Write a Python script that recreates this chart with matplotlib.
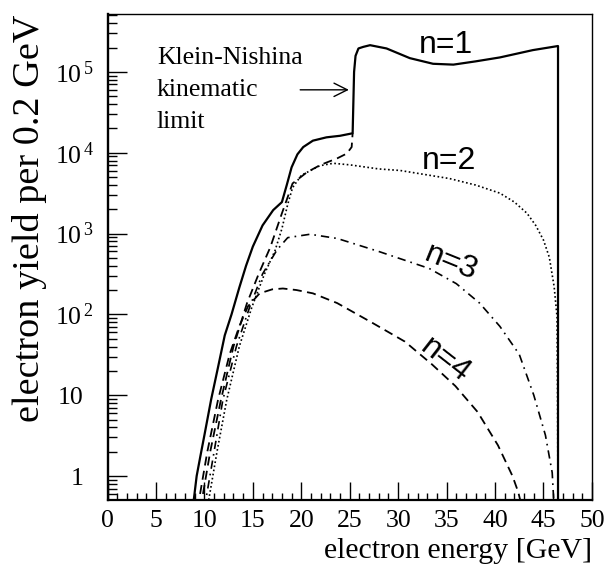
import matplotlib
matplotlib.use('Agg')
import matplotlib.pyplot as plt
from matplotlib.ticker import LogLocator, MultipleLocator, FixedLocator, NullFormatter
from matplotlib.transforms import ScaledTranslation

plt.rcParams['font.family'] = ['Liberation Serif', 'DejaVu Serif']
plt.rcParams['mathtext.fontset'] = 'custom'
plt.rcParams['mathtext.rm'] = 'Liberation Serif'
plt.rcParams['mathtext.it'] = 'Liberation Serif'

# values (energy in GeV, yield per 0.2 GeV)
e_n1 = [8.8, 9.2, 9.6, 10.0, 10.7, 11.4, 12.1, 12.8, 13.6, 14.3, 15.0, 16.0, 17.1, 18.0,
        18.5, 19.0, 19.6, 20.2, 21.2, 22.6, 24.0, 25.3, 25.45, 25.6, 25.9, 26.4, 27.1,
        28.8, 31.2, 33.6, 35.7, 38.0, 40.5, 43.9, 46.5, 46.5]
y_n1 = [0.4, 1.0, 1.8, 3.2, 8.9, 22, 55, 100, 214, 400, 690, 1260, 1950, 2450,
        3980, 6600, 9550, 11750, 14100, 15500, 16200, 17400, 100000, 158000, 195000,
        204000, 214000, 195000, 148000, 126000, 123000, 135000, 151000, 186000, 209000, 0.4]

e_n2 = [10.3, 11.3, 12.3, 13.6, 14.9, 16.2, 17.3, 18.0, 18.6, 19.1, 20.0, 21.9, 23.3, 25.0,
        28.0, 30.2, 35.3, 38.0, 40.5, 42.0, 43.3, 44.2, 45.0, 45.6, 46.1, 46.4, 46.45, 46.5]
y_n2 = [0.4, 2.0, 8.7, 40, 123, 316, 620, 1150, 2300, 3700, 5250, 6900, 7400, 7080,
        6300, 6030, 4790, 3980, 3160, 2450, 1780, 1260, 830, 510, 220, 93, 10, 0.4]

e_n3 = [10.0, 11.0, 11.9, 13.3, 14.7, 16.0, 17.5, 18.6, 20.9, 23.7, 28.0, 33.2, 36.0,
        38.4, 40.5, 42.5, 44.0, 45.2, 45.9, 46.1]
y_n3 = [0.4, 2.0, 8.7, 40, 126, 316, 630, 890, 980, 870, 600, 370, 240,
        138, 71, 32, 10, 3.2, 1.1, 0.4]

e_n4 = [9.3, 10.3, 11.4, 12.6, 13.6, 14.5, 15.7, 17.0, 18.1, 19.5, 21.2, 23.7, 27.3,
        30.7, 33.5, 35.9, 38.2, 40.3, 41.8, 42.4, 42.8]
y_n4 = [0.4, 2.0, 8.7, 32, 71, 126, 182, 204, 209, 200, 182, 138, 79,
        46, 24, 13, 6.2, 2.4, 1.0, 0.63, 0.4]

# dashed curve below the Klein-Nishina edge
e_low = [9.6, 10.6, 11.7, 13.0, 14.4, 15.6, 16.8, 18.0, 19.1, 20.6, 22.0, 23.7, 24.7, 25.2, 25.3]
y_low = [0.4, 2.0, 8.7, 40, 138, 316, 676, 1780, 4170, 5750, 7080, 8510, 9770, 11750, 17400]

x_ticks = [0, 5, 10, 15, 20, 25, 30, 35, 40, 45, 50]
y_ticks = [1, 10, 100, 1000, 10000, 100000]
y_ticklabels = ['1', '10', r'$10^{\,2}$', r'$10^{\,3}$', r'$10^{\,4}$', r'$10^{\,5}$']

fig = plt.figure(figsize=(6.12, 5.70), dpi=100)
ax = fig.add_axes([0.1757, 0.1228, 0.7915, 0.8526])

ax.plot(e_low, y_low, color='black', lw=1.3, ls=(0, (5, 3)))
ax.plot(e_n4, y_n4, color='black', lw=1.3, ls=(0, (5, 3)))
ax.plot(e_n3, y_n3, color='black', lw=1.2, ls=(0, (5, 3, 1, 3)))
ax.plot(e_n2, y_n2, color='black', lw=1.2, ls=(0, (1, 1.5)))
ax.plot(e_n1, y_n1, color='black', lw=1.6)

ax.set_yscale('log')
ax.set_xlim(0, 50)
ax.set_ylim(0.505, 5.2e5)

ax.xaxis.set_major_locator(FixedLocator(x_ticks))
ax.xaxis.set_minor_locator(MultipleLocator(1))
ax.set_xticklabels([str(t) for t in x_ticks])
ax.yaxis.set_major_locator(FixedLocator(y_ticks))
ax.yaxis.set_minor_locator(LogLocator(base=10, subs=range(2, 10), numticks=20))
ax.yaxis.set_minor_formatter(NullFormatter())
ax.set_yticklabels(y_ticklabels)

ax.tick_params(axis='both', which='both', direction='in', top=False, right=False,
               labelsize=18.5, width=1.0, color='black')
ax.tick_params(axis='x', which='major', length=13, pad=7)
ax.tick_params(axis='x', which='minor', length=5)
ax.tick_params(axis='y', which='major', length=14, pad=10)
ax.tick_params(axis='y', which='minor', length=6.5)

# plain "1" and "10" sit left of where the exponent labels end
shift = ScaledTranslation(-7 / 72, 0, fig.dpi_scale_trans)
for lab in ax.get_yticklabels()[:2]:
    lab.set_transform(lab.get_transform() + shift)

ax.spines['left'].set_linewidth(1.7)
ax.spines['bottom'].set_linewidth(1.6)
ax.spines['top'].set_linewidth(1.0)
ax.spines['right'].set_linewidth(1.0)

ax.set_xlabel('electron energy [GeV]', fontsize=21.5, loc='right')
ax.xaxis.set_label_coords(1.0, -0.078)
ax.set_ylabel('electron yield per 0.2 GeV', fontsize=27.5)
ax.yaxis.set_label_coords(-0.125, 0.58)

ax.text(5.1, 1.26e5, 'Klein-Nishina', fontsize=18.5, va='baseline')
ax.text(5.1, 5.1e4, 'kinematic', fontsize=18.5, va='baseline')
ax.text(5.1, 2.0e4, 'limit', fontsize=18.5, va='baseline')
ax.annotate('', xy=(25.2, 6.0e4), xytext=(19.6, 6.0e4),
            arrowprops=dict(arrowstyle='->', lw=1.0, color='black', mutation_scale=24))

sans = ['Liberation Sans', 'DejaVu Sans']
ax.text(34.9, 2.14e5, 'n=1', family=sans, fontsize=23, ha='center', va='center')
ax.text(35.2, 7.8e3, 'n=2', family=sans, fontsize=23, ha='center', va='center')
ax.text(35.5, 4.3e2, 'n=3', family=sans, fontsize=23, ha='center', va='center',
        rotation=-22, rotation_mode='anchor')
ax.text(34.9, 27, 'n=4', family=sans, fontsize=23, ha='center', va='center',
        rotation=-38, rotation_mode='anchor')

fig.savefig('out.png', dpi=100)
